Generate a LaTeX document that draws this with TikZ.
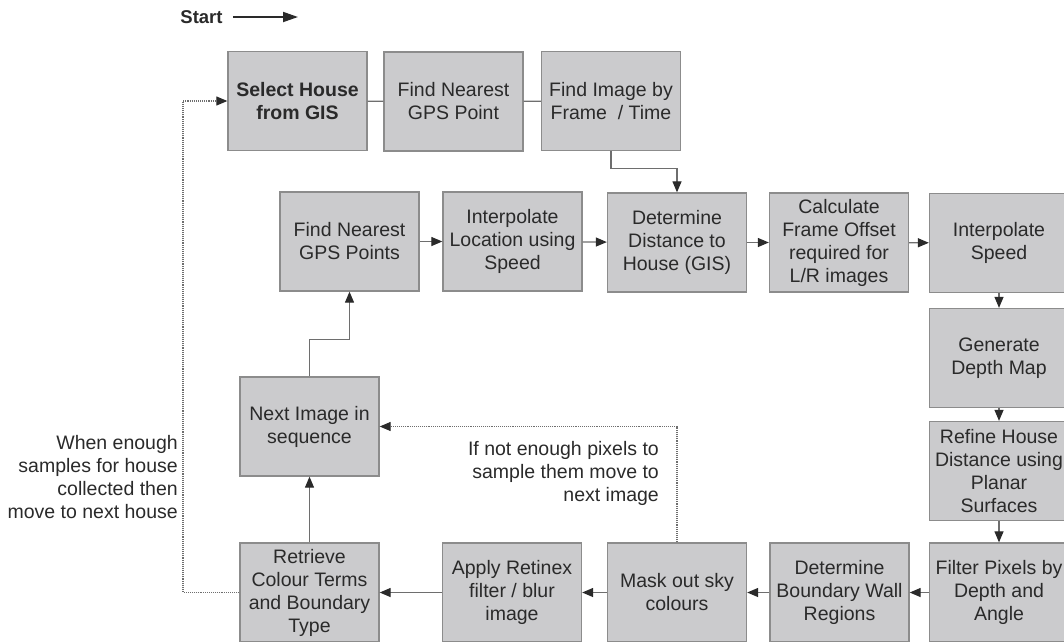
\documentclass[tikz,border=0pt]{standalone}
\usepackage{fontspec}
\setmainfont{Liberation Sans}
\usetikzlibrary{arrows.meta,positioning}
\definecolor{boxfill}{HTML}{CBCBCD}
\definecolor{boxline}{HTML}{8C8C8C}
\definecolor{wire}{HTML}{6E6E6E}
\definecolor{ink}{HTML}{2A2A2A}

\begin{document}
\begin{tikzpicture}[
        x=1pt,y=-1pt,
        font=\fontsize{19.5}{23}\selectfont,
        box/.style={draw=boxline,line width=1.3pt,fill=boxfill,text=ink,inner sep=0pt,
          minimum width=139pt,minimum height=99pt,align=center},
        note/.style={text=ink,inner sep=0pt,align=right},
        link/.style={line width=1.2pt,draw=wire},
        arr/.style={-{Triangle[length=11pt,width=9pt,color=ink]},line width=1.2pt,draw=wire},
        dotarr/.style={-{Triangle[length=11pt,width=9pt,color=ink]},line width=1.1pt,draw=wire,densely dotted},
        startarr/.style={-{Triangle[length=15pt,width=10pt]},line width=1.8pt,draw=ink}
      ]
        \useasboundingbox (0,0) rectangle (1064,641);
        \clip (0,0) rectangle (1064,641);
        \node[text=ink,inner sep=0pt,font=\fontsize{18.5}{22}\selectfont\bfseries] (start) at (201.5,17) {Start};
        \coordinate (startend) at (298,17);
        \node[box,font=\fontsize{19.5}{23}\selectfont\bfseries] (select) at (297.5,101) {Select House\\from GIS};
        \node[box] (gpspoint) at (453.5,101.5) {Find Nearest\\GPS Point};
        \node[box] (frame) at (611,101) {Find Image by\\Frame\ \ / Time};
        \node[box] (gpspoints) at (349.5,241.5) {Find Nearest\\GPS Points};
        \node[box] (interp) at (512.5,241.5) {Interpolate\\Location using\\Speed};
        \node[box] (distance) at (677,242.5) {Determine\\Distance to\\House (GIS)};
        \node[box] (offset) at (839,242.5) {Calculate\\Frame Offset\\required for\\L/R images};
        \node[box] (speed) at (999,243) {Interpolate\\Speed};
        \node[box] (depthmap) at (999,358) {Generate\\Depth Map};
        \node[box] (refine) at (999,471) {Refine House\\Distance using\\Planar\\Surfaces};
        \node[box] (filter) at (999,592.5) {Filter Pixels by\\Depth and\\Angle};
        \node[box] (boundary) at (839.5,592.5) {Determine\\Boundary Wall\\Regions};
        \node[box] (mask) at (677,592.5) {Mask out sky\\colours};
        \node[box] (retinex) at (512,592.5) {Apply Retinex\\filter / blur\\image};
        \node[box] (retrieve) at (309.5,592.5) {Retrieve\\Colour Terms\\and Boundary\\Type};
        \node[box] (nextimg) at (309.5,426.5) {Next Image in\\sequence};
        \node[note,anchor=east] (housenote) at (178,477.5) {When enough\\samples for house\\collected then\\move to next house};
        \node[note,anchor=east] (pixelnote) at (659,473) {If not enough pixels to\\sample them move to\\next image};
        \coordinate (loop) at (183,592.5);
        \draw[startarr,shorten <=10pt] (start.east) -- (startend);
        \draw[link] (select) -- (gpspoint);
        \draw[link] (gpspoint) -- (frame);
        \draw[arr] (frame.south) -- ++(0,17) -| (distance.north);
        \draw[arr] (gpspoints) -- (interp);
        \draw[arr] (interp) -- (distance);
        \draw[arr] (distance) -- (offset);
        \draw[arr] (offset) -- (speed);
        \draw[arr] (speed) -- (depthmap);
        \draw[arr] (depthmap) -- (refine);
        \draw[arr] (refine) -- (filter);
        \draw[arr] (filter) -- (boundary);
        \draw[arr] (boundary) -- (mask);
        \draw[arr] (mask) -- (retinex);
        \draw[arr] (retinex) -- (retrieve);
        \draw[arr] (retrieve) -- (nextimg);
        \draw[arr] (nextimg.north) -- ++(0,-37) -| (gpspoints.south);
        \draw[dotarr] (mask.north) |- (nextimg.east);
        \draw[dotarr] (retrieve.west) -- (loop) |- (select.west);
      \end{tikzpicture}
\end{document}
